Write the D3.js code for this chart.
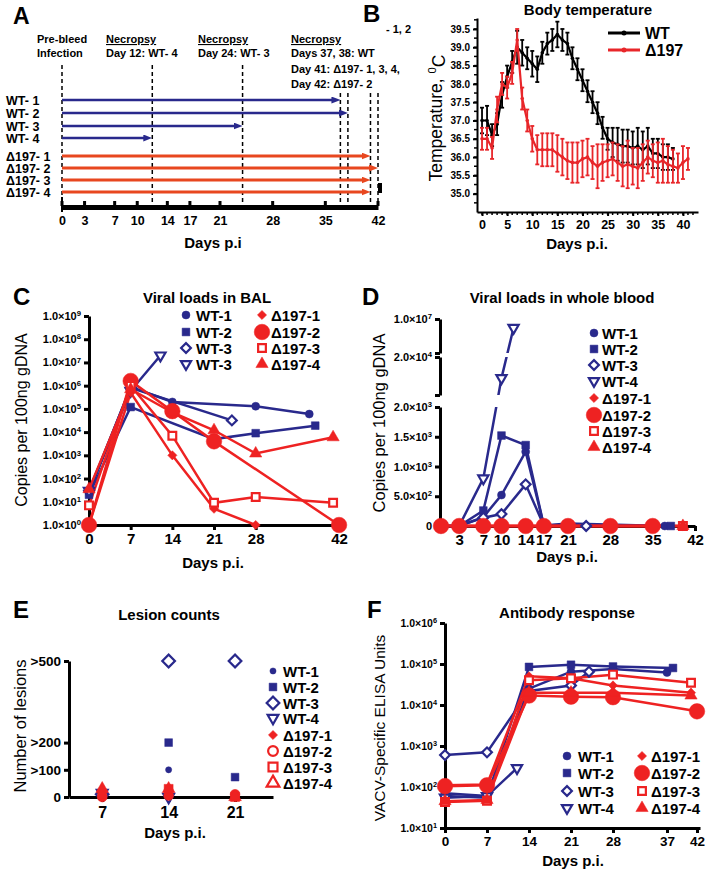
<!DOCTYPE html>
<html>
<meta charset="utf-8">
<script src="https://d3js.org/d3.v7.min.js"></script>
<style>
  body { margin: 0; background: #fff; }
</style>
<body>
<div id="fig"></div>
<script>
// ---------- data ----------
// A: study timeline
const aAnimals = ["WT- 1", "WT- 2", "WT- 3", "WT- 4", "Δ197- 1", "Δ197- 2", "Δ197- 3", "Δ197- 4"];
const aEndDay = [37, 38, 24, 12, 41, 42, 41, 41];
const aNecropsyDays = [0, 12, 24, 37, 38, 41, 42];
const aTicks = [0, 3, 7, 10, 14, 17, 21, 28, 35, 42];

// B: body temperature, one value per day starting at day 0
const bWTMean = [37.0, 37.0, 36.6, 36.9, 37.7, 38.2, 38.6, 39.0, 38.85, 38.7, 38.55, 38.4, 38.85, 39.1, 39.2,
  39.35, 39.2, 39.1, 38.7, 38.4, 38.1, 37.8, 37.5, 37.2, 36.8, 36.5, 36.4, 36.35, 36.3, 36.3, 36.25, 36.3,
  36.2, 36.3, 36.1, 36.1, 36.0, 36.0, 35.95];
const bWTErr = [0.35, 0.4, 0.3, 0.3, 0.35, 0.3, 0.3, 0.45, 0.35, 0.3, 0.35, 0.35, 0.3, 0.3, 0.3, 0.35, 0.3,
  0.3, 0.3, 0.3, 0.3, 0.3, 0.3, 0.3, 0.3, 0.3, 0.4, 0.45, 0.45, 0.45, 0.45, 0.5, 0.5, 0.5, 0.4, 0.4, 0.35,
  0.35, 0.3];
const bD197Mean = [36.5, 36.5, 36.25, 37.3, 38.0, 37.9, 38.3, 39.2, 37.6, 37.0, 36.5, 36.2, 36.2, 36.2, 36.2,
  36.1, 36.0, 35.9, 35.85, 35.85, 35.95, 36.0, 35.85, 35.75, 35.85, 35.9, 35.95, 35.85, 35.75, 35.8, 35.75,
  35.7, 35.85, 36.0, 35.9, 35.85, 35.9, 35.8, 35.75, 35.7, 35.85, 35.95];
const bD197Err = [0.3, 0.3, 0.3, 0.35, 0.3, 0.3, 0.3, 0.3, 0.3, 0.3, 0.35, 0.4, 0.45, 0.45, 0.45, 0.5, 0.5,
  0.5, 0.55, 0.55, 0.5, 0.5, 0.45, 0.6, 0.5, 0.45, 0.45, 0.5, 0.55, 0.65, 0.5, 0.55, 0.5, 0.45, 0.45, 0.55,
  0.6, 0.5, 0.45, 0.4, 0.45, 0.3];
const bTempTicks = [35.0, 35.5, 36.0, 36.5, 37.0, 37.5, 38.0, 38.5, 39.0, 39.5];
const bDayTicks = [0, 5, 10, 15, 20, 25, 30, 35, 40];

// C: viral loads in BAL (copies per 100ng gDNA)
const balLoads = [
  {id: "WT-1", day: [0, 7, 14, 28, 37], v: [25, 9e5, 2e5, 1.3e5, 6e4]},
  {id: "WT-2", day: [0, 7, 21, 28, 38], v: [20, 1.2e5, 5e3, 9e3, 1.9e4]},
  {id: "WT-3", day: [0, 7, 24], v: [30, 8e5, 3.2e4]},
  {id: "WT-4", day: [0, 7, 12], v: [30, 6e5, 2e7]},
  {id: "Δ197-1", day: [0, 7, 14, 21, 28], v: [1, 5e5, 1e3, 5, 1]},
  {id: "Δ197-2", day: [0, 7, 14, 21, 42], v: [1, 1.6e6, 8e4, 4e3, 1]},
  {id: "Δ197-3", day: [0, 7, 14, 21, 28, 41], v: [7, 1.0e6, 7e3, 9, 16, 9]},
  {id: "Δ197-4", day: [0, 7, 14, 21, 28, 41], v: [35, 7e5, 7e4, 1.2e4, 1.2e3, 6e3]}
];
const balLegend = ["WT-1", "WT-2", "WT-3", "WT-3", "Δ197-1", "Δ197-2", "Δ197-3", "Δ197-4"];
const balYTicks = [1, 1e1, 1e2, 1e3, 1e4, 1e5, 1e6, 1e7, 1e8, 1e9];
const balXTicks = [0, 7, 14, 21, 28, 42];

// D: viral loads in whole blood
const bloodLoads = [
  {id: "WT-1", day: [0, 3, 7, 10, 14, 17, 21, 37], v: [0, 0, 150, 520, 1250, 10, 40, 0]},
  {id: "WT-2", day: [0, 3, 7, 10, 14, 17, 21, 38], v: [0, 0, 260, 1520, 1360, 10, 20, 0]},
  {id: "WT-3", day: [0, 3, 7, 10, 14, 17, 24], v: [0, 0, 140, 200, 700, 10, 0]},
  {id: "WT-4", day: [0, 3, 7, 10, 12], v: [0, 0, 800, 1.0e4, 2.0e6]},
  {id: "Δ197-1", day: [0, 3, 7, 10, 14, 17, 21, 28, 35, 40], v: [0, 0, 0, 0, 0, 0, 0, 0, 0, 0]},
  {id: "Δ197-3", day: [0, 3, 7, 10, 14, 17, 21, 28, 35, 40], v: [0, 0, 0, 0, 0, 0, 0, 0, 0, 0]},
  {id: "Δ197-4", day: [0, 3, 7, 10, 14, 17, 21, 28, 35, 40], v: [0, 0, 0, 0, 0, 0, 0, 0, 0, 0]},
  {id: "Δ197-2", day: [0, 3, 7, 10, 14, 17, 21, 28, 35], v: [0, 0, 0, 0, 0, 0, 0, 0, 0]}
];
const bloodLegend = ["WT-1", "WT-2", "WT-3", "WT-4", "Δ197-1", "Δ197-2", "Δ197-3", "Δ197-4"];
const bloodYTicksLow = [0, 500, 1000, 1500, 2000];
const bloodYTicksMid = [2000, 20000];
const bloodYTicksHigh = [20000, 1e7];
const bloodXTicks = [3, 7, 10, 14, 17, 21, 28, 35, 42];

// E: lesion counts
const lesions = [
  {id: "WT-1", day: [7, 14, 21], v: [0, 100, 0]},
  {id: "WT-2", day: [7, 14, 21], v: [5, 200, 73]},
  {id: "WT-3", day: [7, 14, 21], v: [10, 500, 500]},
  {id: "WT-4", day: [7, 14], v: [15, 0]},
  {id: "Δ197-1", day: [7, 14, 21], v: [5, 10, 0]},
  {id: "Δ197-2", day: [7, 14, 21], v: [0, 5, 10]},
  {id: "Δ197-3", day: [7, 14, 21], v: [10, 30, 0]},
  {id: "Δ197-4", day: [7, 14, 21], v: [30, 30, 0]}
];
const lesionYTicks = [0, 100, 200, 500];
const lesionXTicks = [7, 14, 21];

// F: antibody response (VACV-specific ELISA units)
const antibody = [
  {id: "WT-1", day: [0, 7, 14, 21, 28, 37], v: [70, 60, 2.5e4, 6.5e4, 7.5e4, 6.2e4]},
  {id: "WT-2", day: [0, 7, 14, 21, 28, 38], v: [60, 55, 8.5e4, 9.6e4, 8.7e4, 8e4]},
  {id: "WT-3", day: [0, 7, 14, 21, 24], v: [600, 700, 2.2e4, 3e4, 6.5e4]},
  {id: "WT-4", day: [0, 7, 12], v: [55, 60, 290]},
  {id: "Δ197-1", day: [0, 7, 14, 21, 28, 41], v: [110, 115, 5e4, 4.5e4, 3e4, 2e4]},
  {id: "Δ197-2", day: [0, 7, 14, 21, 28, 42], v: [105, 110, 1.7e4, 1.6e4, 1.55e4, 7e3]},
  {id: "Δ197-3", day: [0, 7, 14, 21, 28, 41], v: [43, 46, 4e4, 4.5e4, 5.5e4, 3.5e4]},
  {id: "Δ197-4", day: [0, 7, 14, 21, 28, 41], v: [45, 48, 2e4, 2e4, 2e4, 1.7e4]}
];
const antibodyLegend = ["WT-1", "WT-2", "WT-3", "WT-4", "Δ197-1", "Δ197-2", "Δ197-3", "Δ197-4"];
const antibodyYTicks = [1e1, 1e2, 1e3, 1e4, 1e5, 1e6];
const antibodyXTicks = [0, 7, 14, 21, 28, 37, 42];

const seriesKeys = ["WT-1", "WT-2", "WT-3", "WT-4", "Δ197-1", "Δ197-2", "Δ197-3", "Δ197-4"];

// ---------- styles ----------
const FONT = "'Liberation Sans', Arial, Helvetica, sans-serif";
const NAVY = "#29298c", RED = "#ee2222", A_RED = "#e8471f";

const style = {
  "WT-1": {type: "circle", open: false, color: NAVY, size: 50},
  "WT-2": {type: "square", open: false, color: NAVY, size: 60},
  "WT-3": {type: "diamond", open: true, color: NAVY, size: 48},
  "WT-4": {type: "triDown", open: true, color: NAVY, size: 45},
  "Δ197-1": {type: "diamond", open: false, color: RED, size: 42},
  "Δ197-2": {type: "circle", open: false, color: RED, size: 190},
  "Δ197-3": {type: "square", open: true, color: RED, size: 60},
  "Δ197-4": {type: "triangle", open: false, color: RED, size: 65}
};
// lesion panel draws its legend with some other symbols
const lesionStyle = Object.assign({}, style, {
  "WT-1": {type: "circle", open: false, color: NAVY, size: 30},
  "WT-3": {type: "diamond", open: true, color: NAVY, size: 80},
  "WT-4": {type: "triDown", open: true, color: NAVY, size: 50},
  "Δ197-2": {type: "circle", open: true, color: RED, size: 75},
  "Δ197-3": {type: "square", open: true, color: RED, size: 80},
  "Δ197-4": {type: "triangle", open: true, color: RED, size: 70}
});
const shapes = {circle: d3.symbolCircle, square: d3.symbolSquare, diamond: d3.symbolSquare,
  triangle: d3.symbolTriangle, triDown: d3.symbolTriangle};
const turn = {diamond: " rotate(45)", triDown: " rotate(180)"};

const svg = d3.select("#fig").append("svg")
  .attr("width", 710).attr("height", 874)
  .attr("font-family", FONT);
const defs = svg.append("defs");

function txt(x, y, s, size, opts) {
  opts = opts || {};
  const t = svg.append("text").attr("x", x).attr("y", y)
    .attr("font-size", size)
    .attr("font-weight", opts.weight || "bold")
    .attr("text-anchor", opts.anchor || "start")
    .text(s);
  if (opts.fill) t.attr("fill", opts.fill);
  if (opts.underline) t.attr("text-decoration", "underline");
  return t;
}
function yTitle(s, cx, cy, size) {
  return svg.append("text")
    .attr("transform", `translate(${cx},${cy}) rotate(-90)`)
    .attr("text-anchor", "middle").attr("dy", "0.35em")
    .attr("font-size", size).text(s);
}
function marker(g, st, x, y, fillAll) {
  const open = st.open && !fillAll;
  g.append("path")
    .attr("d", d3.symbol(shapes[st.type], st.size)())
    .attr("transform", `translate(${x},${y})` + (turn[st.type] || ""))
    .attr("fill", open ? "#fff" : st.color)
    .attr("stroke", st.color)
    .attr("stroke-width", open ? 2.2 : 0.5);
}
function sciLabels(g, show) {
  g.selectAll(".tick text").each(function(d) {
    const t = d3.select(this).text(null);
    if (show && !show(d)) return;
    if (d === 0) { t.text("0"); return; }
    const e = Math.floor(Math.log10(d) + 1e-9);
    const m = d / Math.pow(10, e);
    t.append("tspan").text(m.toFixed(1) + "×10");
    t.append("tspan").attr("dy", "-0.5em").attr("font-size", "0.7em").text(e);
  });
}
function styleAxis(g, sw, fs) {
  g.attr("font-family", FONT);
  g.select(".domain").attr("stroke-width", sw);
  g.selectAll(".tick line").attr("stroke-width", sw);
  g.selectAll(".tick text").attr("font-size", fs).attr("font-weight", "bold").attr("fill", "#000");
}
function drawSeries(g, data, x, y, st, lw, fillAll) {
  const line = d3.line().x(d => x(d[0])).y(d => y(d[1]));
  data.forEach(s => {
    g.append("path")
      .attr("d", line(s.day.map((d, i) => [d, s.v[i]])))
      .attr("fill", "none")
      .attr("stroke", st[s.id].color)
      .attr("stroke-width", lw);
  });
  data.forEach(s => s.day.forEach((d, i) => marker(g, st[s.id], x(d), y(s.v[i]), fillAll)));
}
function legend(names, labels, st, cols, rows) {
  names.forEach((n, i) => {
    const c = cols[Math.floor(i / rows.length)];
    const yy = rows[i % rows.length];
    marker(svg, st[n], c[0], yy);
    txt(c[1], yy + 5.5, labels[i], 15);
  });
}

// ---------- A ----------
txt(13, 24, "A", 23);
txt(37, 43, "Pre-bleed", 11);
txt(37, 57, "Infection", 11);
[[106, "Day 12: WT- 4"], [198, "Day 24: WT- 3"], [291, "Days 37, 38: WT"]].forEach(p => {
  txt(p[0], 43, "Necropsy", 11, {underline: true});
  txt(p[0], 57, p[1], 11);
});
txt(291, 73, "Day 41: Δ197- 1, 3, 4,", 11);
txt(291, 88, "Day 42: Δ197- 2", 11);
txt(386, 33, "- 1, 2", 11);

const aX = d3.scaleLinear().domain([0, 42]).range([62, 378]);
const aRowY = [100, 113, 126, 138, 156, 168, 180, 192];

[["arrNavy", NAVY], ["arrRed", A_RED]].forEach(m => {
  defs.append("marker").attr("id", m[0])
    .attr("viewBox", "0 0 10 10").attr("preserveAspectRatio", "none")
    .attr("refX", 3.3).attr("refY", 5)
    .attr("markerWidth", 9).attr("markerHeight", 7)
    .attr("markerUnits", "userSpaceOnUse").attr("orient", "auto")
    .append("path").attr("d", "M0,0L10,5L0,10z").attr("fill", m[1]);
});

aNecropsyDays.forEach(d => {
  svg.append("line")
    .attr("x1", aX(d)).attr("x2", aX(d))
    .attr("y1", d <= 24 ? 65 : 93).attr("y2", 205)
    .attr("stroke", "#000").attr("stroke-width", 1.5)
    .attr("stroke-dasharray", "4,3");
});
aAnimals.forEach((name, i) => {
  const wt = i < 4;
  txt(6, aRowY[i] + 4.5, name, 12.5);
  svg.append("line")
    .attr("x1", aX(0)).attr("x2", aX(aEndDay[i]) - 6)
    .attr("y1", aRowY[i]).attr("y2", aRowY[i])
    .attr("stroke", wt ? NAVY : A_RED).attr("stroke-width", wt ? 2.5 : 3)
    .attr("marker-end", `url(#${wt ? "arrNavy" : "arrRed"})`);
});
const aAxis = svg.append("g").attr("transform", "translate(0,207)")
  .call(d3.axisBottom(aX).tickValues(aTicks).tickSize(0).tickPadding(9));
styleAxis(aAxis, 5, 12.5);
aTicks.forEach(d => {
  svg.append("rect").attr("x", aX(d) - 1.5).attr("y", 201).attr("width", 3).attr("height", 5);
});
svg.append("rect").attr("x", aX(0) - 1).attr("y", 197).attr("width", 2).attr("height", 15);
svg.append("rect").attr("x", 378).attr("y", 183).attr("width", 4).attr("height", 10);
txt(213, 248, "Days p.i", 15, {anchor: "middle"});

// ---------- B ----------
txt(363, 22, "B", 24);
txt(588, 15, "Body temperature", 15, {anchor: "middle"});
const bX = d3.scaleLinear().domain([-1, 43]).range([477, 698]);
const bY = d3.scaleLinear().domain([34.5, 39.8]).range([212, 18]);

const bYAxis = svg.append("g").attr("transform", "translate(477,0)")
  .call(d3.axisLeft(bY).tickValues(bTempTicks).tickFormat(d3.format(".1f")).tickSize(4).tickSizeOuter(0));
styleAxis(bYAxis, 2, 10);
const bXAxis = svg.append("g").attr("transform", "translate(0,212)")
  .call(d3.axisBottom(bX).tickValues(bDayTicks).tickSize(4).tickSizeOuter(0).tickPadding(4));
styleAxis(bXAxis, 2, 12.5);
d3.range(34.75, 39.8, 0.25).forEach(v => {
  svg.append("line").attr("x1", 474).attr("x2", 477).attr("y1", bY(v)).attr("y2", bY(v))
    .attr("stroke", "#000").attr("stroke-width", 1.5);
});
d3.range(0, 43).forEach(d => {
  svg.append("line").attr("x1", bX(d)).attr("x2", bX(d)).attr("y1", 212).attr("y2", 215)
    .attr("stroke", "#000").attr("stroke-width", 1.5);
});

[[bWTMean, bWTErr, "#000"], [bD197Mean, bD197Err, "#e8262a"]].forEach(ser => {
  const g = svg.append("g");
  const pts = ser[0].map((v, i) => ({d: i, v: v, e: ser[1][i]}));
  pts.forEach(p => {
    const x = bX(p.d), y0 = bY(p.v - p.e), y1 = bY(p.v + p.e);
    g.append("line").attr("x1", x).attr("x2", x).attr("y1", y0).attr("y2", y1)
      .attr("stroke", ser[2]).attr("stroke-width", 1.8);
    [y0, y1].forEach(yy => g.append("line").attr("x1", x - 2).attr("x2", x + 2)
      .attr("y1", yy).attr("y2", yy).attr("stroke", ser[2]).attr("stroke-width", 1.8));
  });
  g.append("path").attr("d", d3.line().x(p => bX(p.d)).y(p => bY(p.v))(pts))
    .attr("fill", "none").attr("stroke", ser[2]).attr("stroke-width", 2.2);
  pts.forEach(p => g.append("circle").attr("cx", bX(p.d)).attr("cy", bY(p.v)).attr("r", 1.8).attr("fill", ser[2]));
});
[["WT", "#000", 33], ["Δ197", "#e8262a", 50]].forEach(l => {
  svg.append("line").attr("x1", 608).attr("x2", 640).attr("y1", l[2]).attr("y2", l[2])
    .attr("stroke", l[1]).attr("stroke-width", 3);
  svg.append("circle").attr("cx", 624).attr("cy", l[2]).attr("r", 2.5).attr("fill", l[1]);
  txt(645, l[2] + 6, l[0], 16);
});
const bT = yTitle("", 436, 118, 17.5);
bT.append("tspan").text("Temperature, ");
bT.append("tspan").attr("dy", "-0.5em").attr("font-size", "0.65em").text("0");
bT.append("tspan").attr("dy", "0.5em").text("C");
txt(577, 249, "Days p.i.", 15, {anchor: "middle"});

// ---------- C ----------
txt(13, 305, "C", 24);
txt(207, 303, "Viral loads in BAL", 15, {anchor: "middle"});
const cX = d3.scaleLinear().domain([0, 43]).range([89, 345]);
const cY = d3.scaleLog().domain([1, 1e9]).range([525, 316]);
const cYAxis = svg.append("g").attr("transform", "translate(89,0)")
  .call(d3.axisLeft(cY).tickValues(balYTicks).tickSize(5).tickSizeOuter(0));
styleAxis(cYAxis, 3, 11);
sciLabels(cYAxis);
const cXAxis = svg.append("g").attr("transform", "translate(0,525)")
  .call(d3.axisBottom(cX).tickValues(balXTicks).tickSize(5).tickSizeOuter(0));
styleAxis(cXAxis, 3, 15);
drawSeries(svg.append("g"), balLoads, cX, cY, style, 2.5);
legend(seriesKeys, balLegend, style, [[186, 196], [262, 271]], [315, 332, 348, 364]);
yTitle("Copies per 100ng gDNA", 21, 420, 16);
txt(213, 568, "Days p.i.", 15, {anchor: "middle"});

// ---------- D ----------
txt(362, 305, "D", 24);
txt(562, 303, "Viral loads in whole blood", 15, {anchor: "middle"});
const dX = d3.scaleLinear().domain([0, 42]).range([441, 695]);
const dS1 = d3.scaleLinear().domain([0, 2000]).range([526, 407]);
const dS2 = d3.scaleLinear().domain([2000, 20000]).range([395, 357]);
const dS3 = d3.scaleLog().domain([20000, 1e7]).range([353, 319]);
const dY = v => v <= 2000 ? dS1(v) : (v <= 20000 ? dS2(v) : dS3(v));

[[dS1, bloodYTicksLow, () => true], [dS2, bloodYTicksMid, d => d === 20000], [dS3, bloodYTicksHigh, d => d === 1e7]]
  .forEach(a => {
    const g = svg.append("g").attr("transform", "translate(440,0)")
      .call(d3.axisLeft(a[0]).tickValues(a[1]).tickSize(5).tickSizeOuter(0));
    styleAxis(g, 3, 11);
    sciLabels(g, a[2]);
  });
const dXAxis = svg.append("g").attr("transform", "translate(0,526)")
  .call(d3.axisBottom(dX).tickValues(bloodXTicks).tickSize(5).tickSizeOuter(0));
styleAxis(dXAxis, 3, 15);

[[407, 125], [357, 38], [300, 53]].forEach((r, i) => {
  defs.append("clipPath").attr("id", "dClip" + i)
    .append("rect").attr("x", 430).attr("y", r[0]).attr("width", 280).attr("height", r[1]);
});
const dLine = d3.line().x(d => dX(d[0])).y(d => dY(d[1]));
[0, 1, 2].forEach(i => {
  const g = svg.append("g").attr("clip-path", `url(#dClip${i})`);
  bloodLoads.forEach(s => {
    g.append("path").attr("d", dLine(s.day.map((d, j) => [d, s.v[j]])))
      .attr("fill", "none").attr("stroke", style[s.id].color).attr("stroke-width", 2.5);
  });
});
const dMarks = svg.append("g");
bloodLoads.forEach(s => s.day.forEach((d, j) => marker(dMarks, style[s.id], dX(d), dY(s.v[j]))));
legend(seriesKeys, bloodLegend, style, [[594, 602]], [333, 349, 365, 381, 398, 415, 431, 447]);
yTitle("Copies per 100ng gDNA", 379, 423, 16.5);
txt(567, 562, "Days p.i.", 15, {anchor: "middle"});

// ---------- E ----------
txt(13, 618, "E", 24);
txt(169, 620, "Lesion counts", 15, {anchor: "middle"});
const eX = d3.scaleLinear().domain([3.5, 25]).range([69, 273]);
const eY = d3.scaleLinear().domain([0, 500]).range([797, 661]);
const eYAxis = svg.append("g").attr("transform", "translate(69,0)")
  .call(d3.axisLeft(eY).tickValues(lesionYTicks).tickFormat(d => d === 0 ? "0" : ">" + d)
    .tickSize(5).tickSizeOuter(0));
styleAxis(eYAxis, 3, 13.5);
const eXAxis = svg.append("g").attr("transform", "translate(0,797)")
  .call(d3.axisBottom(eX).tickValues(lesionXTicks).tickSize(5).tickSizeOuter(0).tickPadding(5));
styleAxis(eXAxis, 3, 16);
const eMarks = svg.append("g");
lesions.forEach(s => s.day.forEach((d, j) =>
  marker(eMarks, lesionStyle[s.id], eX(d), eY(s.v[j]), s.id.startsWith("Δ"))));
legend(seriesKeys, seriesKeys, lesionStyle, [[273, 283]], [671, 687, 703, 718, 735, 751, 767, 783]);
yTitle("Number of lesions", 20, 726, 16.5);
txt(175, 838, "Days p.i.", 15, {anchor: "middle"});

// ---------- F ----------
txt(367, 618, "F", 24);
txt(567, 618, "Antibody response", 15, {anchor: "middle"});
const fX = d3.scaleLinear().domain([0, 42.5]).range([445, 700]);
const fY = d3.scaleLog().domain([10, 1e6]).range([828, 623]);
const fYAxis = svg.append("g").attr("transform", "translate(445,0)")
  .call(d3.axisLeft(fY).tickValues(antibodyYTicks).tickSize(5).tickSizeOuter(0));
styleAxis(fYAxis, 3, 10.5);
sciLabels(fYAxis);
const fXAxis = svg.append("g").attr("transform", "translate(0,828)")
  .call(d3.axisBottom(fX).tickValues(antibodyXTicks).tickSize(5).tickSizeOuter(0));
styleAxis(fXAxis, 3, 13.5);
drawSeries(svg.append("g"), antibody, fX, fY, style, 2.5);
legend(seriesKeys, antibodyLegend, style, [[567, 578], [642, 651]], [756, 773, 791, 808]);
yTitle("VACV-Specific ELISA Units", 380, 728, 15.5);
txt(573, 866, "Days p.i.", 15, {anchor: "middle"});
</script>
</body>
</html>
